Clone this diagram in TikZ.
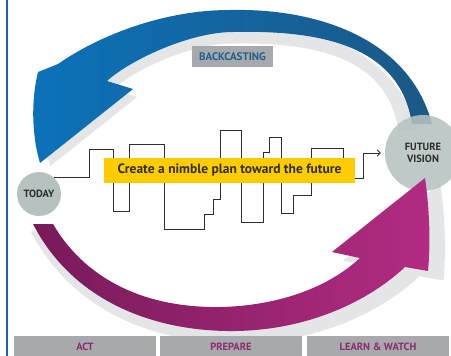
\documentclass[tikz,border=0pt]{standalone}
\usepackage{fontspec}
\setmainfont{PT Sans}
\usetikzlibrary{arrows.meta}
\definecolor{circ}{HTML}{B6C2C0}
\definecolor{halo}{HTML}{E4E5E7}
\definecolor{barg}{HTML}{A7A9AC}
\definecolor{blueL}{HTML}{0B72B9}
\definecolor{blueR}{HTML}{1B5886}
\definecolor{magL}{HTML}{781A5A}
\definecolor{magR}{HTML}{B22C82}
\definecolor{gold}{HTML}{FFCC00}
\definecolor{ink}{HTML}{2E2E2E}
\definecolor{labblue}{HTML}{1F5F92}
\definecolor{labmag}{HTML}{8E2A6E}
\definecolor{rule}{HTML}{1D65A8}

% outline of the backcasting arrow (future -> today)
\newcommand\bkpath{(432,124) .. controls (410,40) and (320,8) .. (230,10)
  .. controls (160,10) and (95,38) .. (58,64) -- (38,72)
  .. controls (30,105) and (33,140) .. (40,163) -- (133,89) -- (107,81)
  .. controls (130,60) and (190,32) .. (233,32)
  .. controls (320,30) and (400,45) .. (412,124) -- cycle}
% outline of the forward arrow (today -> future)
\newcommand\fwpath{(33,224) .. controls (75,305) and (160,332) .. (235,331)
  .. controls (310,330) and (370,300) .. (405,267) -- (428,271)
  .. controls (431,240) and (429,205) .. (425,178) -- (332,252) -- (360,258)
  .. controls (320,295) and (260,308) .. (210,307)
  .. controls (130,305) and (80,270) .. (53,224) -- cycle}

\begin{document}
\begin{tikzpicture}[x=1pt,y=-1pt,
  bubble/.style={circle,fill=circ,inner sep=0pt,minimum size=44pt,text=ink,
    align=center,font=\bfseries\fontsize{10.5}{12}\selectfont},
  tag/.style={fill=barg,inner sep=0pt,minimum height=21pt,
    font=\bfseries\fontsize{10.5}{12}\selectfont},
  plan/.style={draw=ink,line width=0.9pt},
]
\useasboundingbox (0,0) rectangle (451,356);
\clip (0,0) rectangle (451,356);

% left rule
\draw[rule,line width=1.6pt] (7,0) -- (7,356);

% backcasting arrow with its shadow
\begin{scope}[scale around={0.936:(197,214)}]
  \fill[halo] \bkpath;
\end{scope}
\shade[left color=blueL,right color=blueR] \bkpath;

% shadow of the forward arrow
\begin{scope}[scale around={1.045:(85,60)}]
  \fill[halo] \fwpath;
\end{scope}

% circles
\node[bubble] (today) at (39,194) {TODAY};
\node[bubble,minimum size=76pt,fill opacity=.87,text opacity=1] (future) at (423,153) {FUTURE\\VISION};

% stepped plan line
\draw[plan,shorten >=4pt,-{Straight Barb[length=3pt,width=6pt]}]
  (today.47) -| (89,149) -| (113,211) -| (129,144) -| (164,229) -| (204,214)
  -| (213,199) -| (220,130) -| (241,222) -| (263,152) -| (269,137) -| (281,213)
  -| (293,195) -| (311,148) -| (343,178) -| (363,153) -- (future.west);

% forward arrow
\shade[left color=magL,right color=magR] \fwpath;

% plan caption
\node[fill=gold,minimum width=251pt,minimum height=25pt,inner sep=0pt,text=ink,
  font=\bfseries\fontsize{13.5}{15}\selectfont] (goal) at (229.5,170.5)
  {Create a nimble plan toward the future};

% labels
\node[tag,minimum width=81pt,text=labblue,font=\bfseries\fontsize{11}{12}\selectfont] (back) at (232.5,56.5) {BACKCASTING};
\node[tag,minimum width=142pt,minimum height=22pt,text=labmag] (act) at (85,347) {ACT};
\node[tag,minimum width=142pt,minimum height=22pt,text=labmag] (prep) at (231,347) {PREPARE};
\node[tag,minimum width=142pt,minimum height=22pt,text=labmag] (learn) at (378,347) {LEARN \& WATCH};
\end{tikzpicture}
\end{document}
